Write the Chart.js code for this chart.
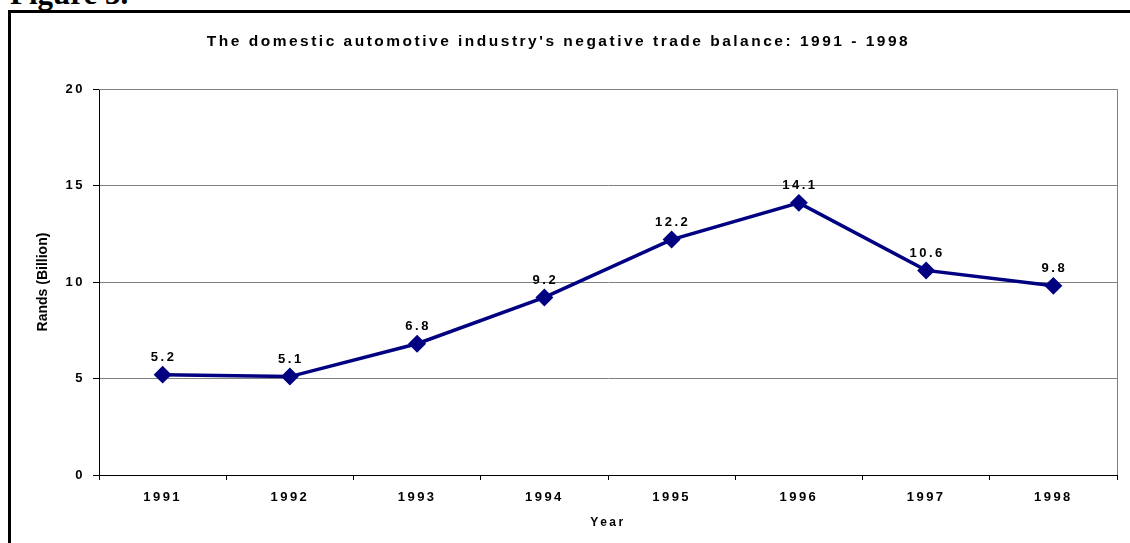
<!DOCTYPE html>
<html lang="en">
<head>
<meta charset="UTF-8">
<title>Trade balance 1991 - 1998</title>
<script src="https://cdn.jsdelivr.net/npm/chart.js"></script>
<style>
  html, body { margin: 0; padding: 0; background: #fff; overflow: hidden; }
  #fig { position: absolute; left: 10px; top: -22px; font: bold 31px "Liberation Serif", "Times New Roman", serif; line-height: 31px; color: #000; }
  #wrap { position: absolute; left: 0; top: 0; width: 1130px; height: 543px; }
</style>
</head>
<body>
<div id="fig">Figure 3.</div>
<div id="wrap"><canvas id="tradeChart" width="1130" height="543"></canvas></div>

<script>
const years = ['1991', '1992', '1993', '1994', '1995', '1996', '1997', '1998'];
const balance = [5.2, 5.1, 6.8, 9.2, 12.2, 14.1, 10.6, 9.8];
const yTicks = [0, 5, 10, 15, 20];

const FONT = 'Arial, "Liberation Sans", sans-serif';
const SPACING = '2.5px';

// frame, letter spacing, value labels, y title
const extras = {
    id: 'extras',
    beforeDraw(chart) {
        const ctx = chart.ctx;
        ctx.save();
        ctx.fillStyle = '#000';
        ctx.fillRect(8, 10, 3, 543);
        ctx.fillRect(8, 10, 1130, 3);
        ctx.restore();
        ctx.letterSpacing = SPACING;
    },
    beforeDatasetsDraw(chart) {
        const ctx = chart.ctx;
        const a = chart.chartArea;
        ctx.save();
        ctx.strokeStyle = '#808080';
        ctx.lineWidth = 1;
        ctx.beginPath();
        ctx.moveTo(a.left, a.top + 0.5);
        ctx.lineTo(a.right + 0.5, a.top + 0.5);
        ctx.lineTo(a.right + 0.5, a.bottom);
        ctx.stroke();
        ctx.restore();
    },
    afterDatasetsDraw(chart) {
        const ctx = chart.ctx;
        const meta = chart.getDatasetMeta(0);
        ctx.save();
        ctx.letterSpacing = SPACING;
        ctx.font = 'bold 13px ' + FONT;
        ctx.fillStyle = '#000';
        ctx.textAlign = 'center';
        ctx.textBaseline = 'middle';
        meta.data.forEach((pt, i) => {
            ctx.fillText(balance[i].toFixed(1), pt.x + 1, pt.y - 17);
        });
        // y axis title
        ctx.letterSpacing = '0px';
        ctx.font = 'bold 14px ' + FONT;
        ctx.translate(43, (chart.chartArea.top + chart.chartArea.bottom) / 2);
        ctx.rotate(-Math.PI / 2);
        ctx.fillText('Rands (Billion)', 0, 0);
        ctx.restore();
        ctx.letterSpacing = SPACING;
    }
};

const ctx = document.getElementById('tradeChart').getContext('2d');
const chart = new Chart(ctx, {
    type: 'line',
    data: {
        labels: years,
        datasets: [{
            data: balance,
            borderColor: '#000080',
            backgroundColor: '#000080',
            borderWidth: 3.5,
            pointStyle: 'rectRot',
            pointRadius: 6.5,
            pointHoverRadius: 6.5,
            tension: 0
        }]
    },
    options: {
        responsive: false,
        animation: false,
        events: [],
        layout: { padding: { left: 0, right: 13, top: 0, bottom: 0 } },
        plugins: {
            legend: { display: false },
            tooltip: { enabled: false },
            title: {
                display: true,
                text: "The domestic automotive industry's negative trade balance: 1991 - 1998",
                color: '#000',
                font: { family: FONT, size: 15.5, weight: 'bold', lineHeight: 1.2 },
                padding: { top: 32, bottom: 38.4 }
            }
        },
        scales: {
            x: {
                offset: true,
                grid: {
                    offset: true,
                    drawOnChartArea: false,
                    drawTicks: true,
                    tickLength: 5,
                    tickColor: '#000'
                },
                border: { color: '#000', width: 1 },
                ticks: {
                    color: '#000',
                    font: { family: FONT, size: 13, weight: 'bold' },
                    padding: 10,
                    maxRotation: 0,
                    autoSkip: false
                },
                title: {
                    display: true,
                    text: 'Year',
                    color: '#000',
                    font: { family: FONT, size: 12, weight: 'bold', lineHeight: 1.2 },
                    padding: { top: 0, bottom: 13.5 }
                },
                afterFit(scale) { scale.height = 68; }
            },
            y: {
                min: 0,
                max: 20,
                afterBuildTicks(scale) { scale.ticks = yTicks.map(v => ({ value: v })); },
                grid: {
                    color: '#808080',
                    tickLength: 6,
                    tickColor: '#000'
                },
                border: { color: '#000', width: 1 },
                ticks: {
                    color: '#000',
                    font: { family: FONT, size: 13, weight: 'bold' },
                    padding: 8
                },
                afterFit(scale) { scale.width = 99; }
            }
        }
    },
    plugins: [extras]
});
</script>
</body>
</html>
